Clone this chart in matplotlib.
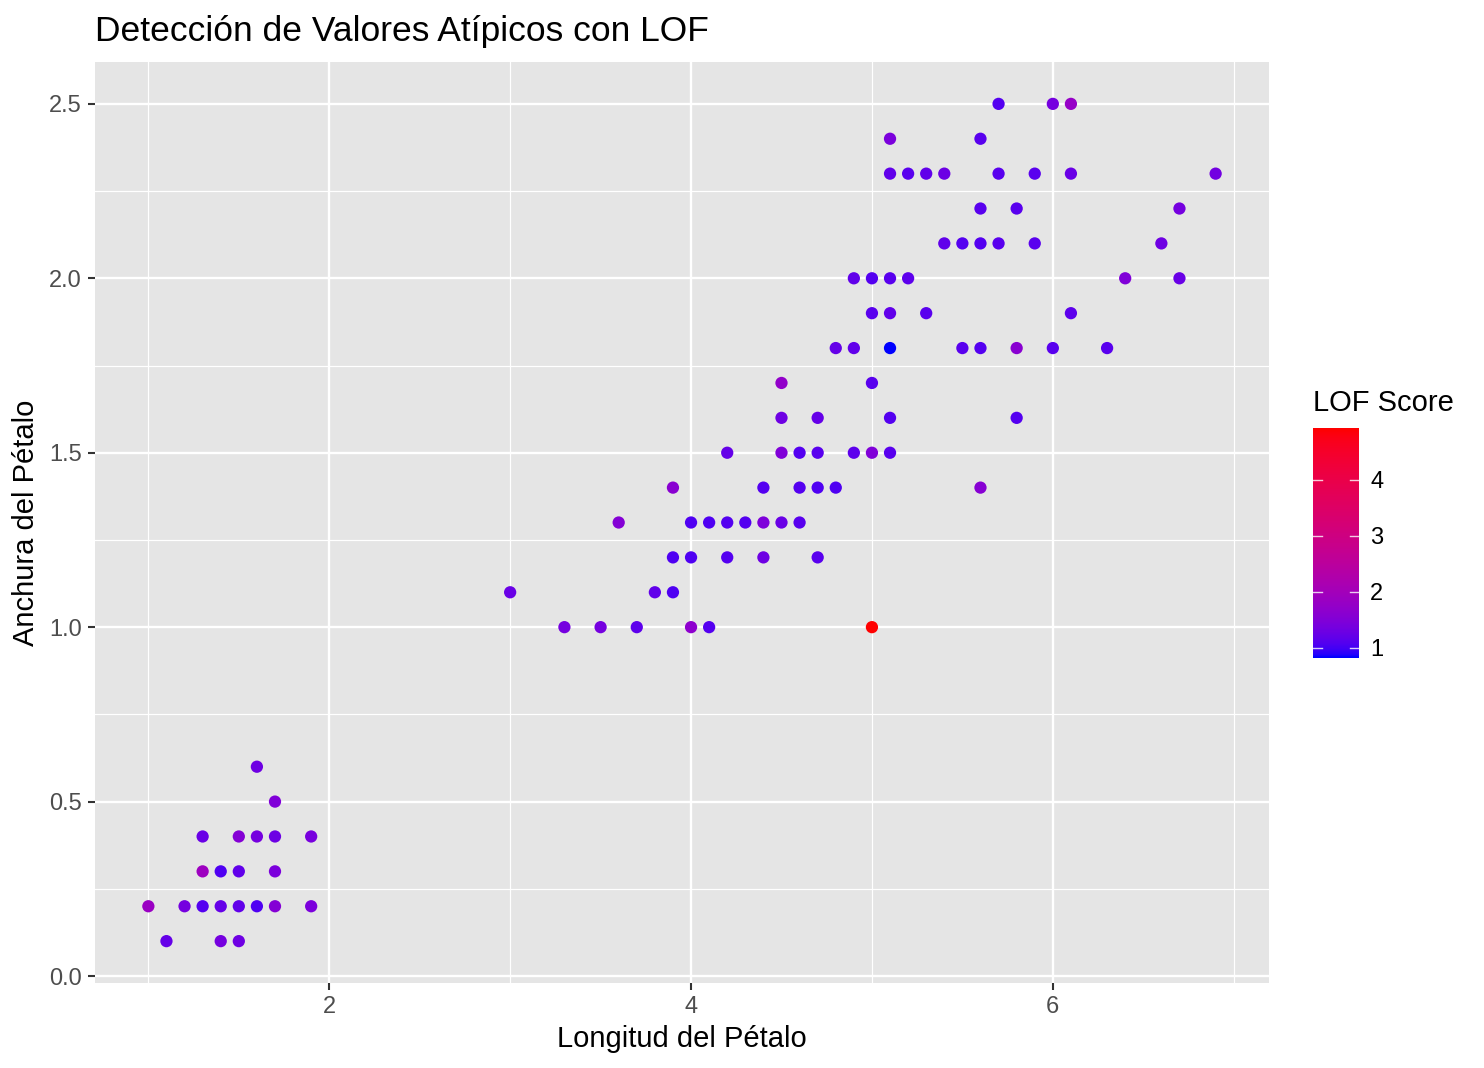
import numpy as np
import matplotlib
matplotlib.use("Agg")
import matplotlib.pyplot as plt
from matplotlib.colors import ListedColormap, Normalize

plt.rcParams['font.family'] = ['Liberation Sans', 'DejaVu Sans']

# petal length / width / LOF score
# setosa cluster
len_a = [1.6, 1.7, 1.3, 1.5, 1.6, 1.7, 1.9, 1.3, 1.4, 1.5, 1.7,
         1.0, 1.2, 1.3, 1.4, 1.5, 1.6, 1.7, 1.9, 1.1, 1.4, 1.5]
wid_a = [0.6, 0.5, 0.4, 0.4, 0.4, 0.4, 0.4, 0.3, 0.3, 0.3, 0.3,
         0.2, 0.2, 0.2, 0.2, 0.2, 0.2, 0.2, 0.2, 0.1, 0.1, 0.1]
lof_a = [1.3, 1.48, 1.24, 1.54, 1.36, 1.27, 1.39, 1.9, 1.06, 1.18, 1.42,
         1.84, 1.36, 1.09, 1.21, 1.18, 1.06, 1.54, 1.42, 1.21, 1.36, 1.3]

# middle cluster
len_b = [4.5, 5.0, 4.5, 4.7, 5.1, 5.8,
         4.2, 4.5, 4.6, 4.7, 4.9, 5.0, 5.1,
         3.9, 4.4, 4.6, 4.7, 4.8, 5.6,
         3.6, 4.0, 4.1, 4.2, 4.3, 4.4, 4.5, 4.6,
         3.9, 4.0, 4.2, 4.4, 4.7,
         3.0, 3.8, 3.9,
         3.3, 3.5, 3.7, 4.0, 4.1, 5.0]
wid_b = [1.7, 1.7, 1.6, 1.6, 1.6, 1.6,
         1.5, 1.5, 1.5, 1.5, 1.5, 1.5, 1.5,
         1.4, 1.4, 1.4, 1.4, 1.4, 1.4,
         1.3, 1.3, 1.3, 1.3, 1.3, 1.3, 1.3, 1.3,
         1.2, 1.2, 1.2, 1.2, 1.2,
         1.1, 1.1, 1.1,
         1.0, 1.0, 1.0, 1.0, 1.0, 1.0]
lof_b = [1.72, 1.12, 1.3, 1.21, 1.09, 1.09,
         1.21, 1.48, 1.09, 1.12, 1.15, 1.48, 1.12,
         1.6, 1.09, 1.09, 1.06, 1.06, 1.57,
         1.54, 1.06, 1.06, 1.09, 1.09, 1.45, 1.24, 1.12,
         1.06, 1.06, 1.09, 1.3, 1.12,
         1.24, 1.18, 1.06,
         1.36, 1.36, 1.15, 1.66, 1.09, 4.92]

# upper cluster
len_c = [5.7, 6.0, 6.1,
         5.1, 5.6,
         5.1, 5.2, 5.3, 5.4, 5.7, 5.9, 6.1, 6.9,
         5.6, 5.8, 6.7,
         5.4, 5.5, 5.6, 5.7, 5.9, 6.6,
         4.9, 5.0, 5.1, 5.2, 6.4, 6.7,
         5.0, 5.1, 5.3, 6.1,
         4.8, 4.9, 5.1, 5.5, 5.6, 5.8, 6.0, 6.3]
wid_c = [2.5, 2.5, 2.5,
         2.4, 2.4,
         2.3, 2.3, 2.3, 2.3, 2.3, 2.3, 2.3, 2.3,
         2.2, 2.2, 2.2,
         2.1, 2.1, 2.1, 2.1, 2.1, 2.1,
         2.0, 2.0, 2.0, 2.0, 2.0, 2.0,
         1.9, 1.9, 1.9, 1.9,
         1.8, 1.8, 1.8, 1.8, 1.8, 1.8, 1.8, 1.8]
lof_c = [1.09, 1.36, 1.78,
         1.42, 1.12,
         1.18, 1.12, 1.18, 1.27, 1.12, 1.12, 1.24, 1.33,
         1.12, 1.12, 1.36,
         1.18, 1.09, 1.09, 1.12, 1.12, 1.3,
         1.18, 1.09, 1.12, 1.15, 1.48, 1.24,
         1.12, 1.18, 1.12, 1.15,
         1.21, 1.18, 0.82, 1.12, 1.09, 1.6, 1.12, 1.12]

x_ticks = [2, 4, 6]
y_ticks = [0.0, 0.5, 1.0, 1.5, 2.0, 2.5]
cb_ticks = [1, 2, 3, 4]


# blue -> red gradient interpolated in Lab, like ggplot's scale_colour_gradient
def srgb_to_lab(rgb):
    c = np.asarray(rgb, float)
    lin = np.where(c <= 0.04045, c / 12.92, ((c + 0.055) / 1.055) ** 2.4)
    m = np.array([[0.4124, 0.3576, 0.1805],
                  [0.2126, 0.7152, 0.0722],
                  [0.0193, 0.1192, 0.9505]])
    xyz = lin @ m.T / np.array([0.95047, 1.0, 1.08883])
    f = np.where(xyz > 0.008856, np.cbrt(xyz), 7.787 * xyz + 16 / 116)
    return np.stack([116 * f[..., 1] - 16,
                     500 * (f[..., 0] - f[..., 1]),
                     200 * (f[..., 1] - f[..., 2])], axis=-1)


def lab_to_srgb(lab):
    L, a, b = lab[..., 0], lab[..., 1], lab[..., 2]
    fy = (L + 16) / 116
    fx = fy + a / 500
    fz = fy - b / 200
    f = np.stack([fx, fy, fz], axis=-1)
    xyz = np.where(f ** 3 > 0.008856, f ** 3, (f - 16 / 116) / 7.787)
    xyz = xyz * np.array([0.95047, 1.0, 1.08883])
    m = np.array([[3.2406, -1.5372, -0.4986],
                  [-0.9689, 1.8758, 0.0415],
                  [0.0557, -0.2040, 1.0570]])
    lin = np.clip(xyz @ m.T, 0, 1)
    c = np.where(lin <= 0.0031308, 12.92 * lin, 1.055 * lin ** (1 / 2.4) - 0.055)
    return np.clip(c, 0, 1)


t = np.linspace(0, 1, 256)[:, None]
lab0 = srgb_to_lab([0, 0, 1])
lab1 = srgb_to_lab([1, 0, 0])
cmap = ListedColormap(lab_to_srgb(lab0 + t * (lab1 - lab0)))

px = np.array(len_a + len_b + len_c)
py = np.array(wid_a + wid_b + wid_c)
lof = np.array(lof_a + lof_b + lof_c)
norm = Normalize(lof.min(), lof.max())

W, H = 1484, 1068
fig = plt.figure(figsize=(W / 100, H / 100), dpi=100)
ax = fig.add_axes([95 / W, 1 - 983 / H, (1269 - 95) / W, (983 - 62) / H])
ax.set_facecolor('#E5E5E5')

# ggplot-style 5% expansion
xr = px.max() - px.min()
yr = py.max() - py.min()
ax.set_xlim(px.min() - 0.05 * xr, px.max() + 0.05 * xr)
ax.set_ylim(py.min() - 0.05 * yr, py.max() + 0.05 * yr)

ax.set_xticks(x_ticks)
ax.set_yticks(y_ticks)
ax.set_yticklabels([f'{v:.1f}' for v in y_ticks])
ax.set_xticks([1, 3, 5, 7], minor=True)
ax.set_yticks([0.25, 0.75, 1.25, 1.75, 2.25], minor=True)
ax.grid(which='major', color='white', linewidth=1.7)
ax.grid(which='minor', color='white', linewidth=0.85)
ax.set_axisbelow(True)
for s in ax.spines.values():
    s.set_visible(False)
ax.tick_params(which='major', length=5.3, width=1.5, color='#333333',
               labelsize=17, labelcolor='#4D4D4D', pad=4)
ax.tick_params(which='minor', length=0)

ax.scatter(px, py, c=lof, cmap=cmap, norm=norm, s=78, linewidths=0, zorder=3)

ax.set_xlabel('Longitud del Pétalo', fontsize=21, labelpad=5)
ax.set_ylabel('Anchura del Pétalo', fontsize=21, labelpad=7)
fig.text(95 / W, 1 - 41 / H, 'Detección de Valores Atípicos con LOF',
         fontsize=25.5, va='baseline', ha='left')

# colour bar
cax = fig.add_axes([1313 / W, 1 - 658 / H, 46 / W, 230 / H])
grad = np.linspace(norm.vmin, norm.vmax, 300)[:, None]
cax.imshow(grad, aspect='auto', cmap=cmap, norm=norm, origin='lower',
           extent=[0, 1, norm.vmin, norm.vmax])
cax.set_xlim(0, 1)
cax.set_ylim(norm.vmin, norm.vmax)
for v in cb_ticks:
    cax.plot([0, 0.2], [v, v], color='white', lw=1, alpha=0.8)
    cax.plot([0.8, 1], [v, v], color='white', lw=1, alpha=0.8)
cax.set_xticks([])
cax.yaxis.tick_right()
cax.set_yticks(cb_ticks)
cax.tick_params(axis='y', length=0, labelsize=17, pad=8)
for s in cax.spines.values():
    s.set_visible(False)
fig.text(1313 / W, 1 - 411 / H, 'LOF Score', fontsize=21,
         va='baseline', ha='left')

fig.savefig('out.png', dpi=100)
